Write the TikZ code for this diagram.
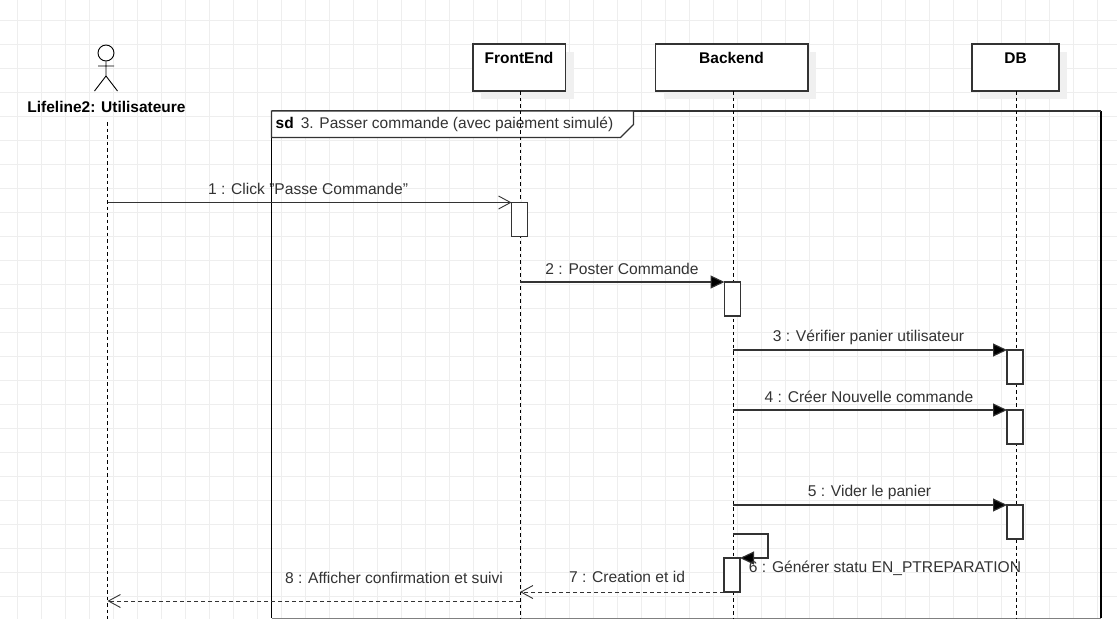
\documentclass[tikz,border=0pt]{standalone}
\usepackage{fontspec}
\setmainfont{Liberation Sans}
\usetikzlibrary{arrows.meta}
\definecolor{gridc}{HTML}{EEEEEE}
\definecolor{ink}{HTML}{333333}
\definecolor{shade}{HTML}{F0F0F0}
\tikzset{
  x=1pt,y=-1pt,
  gridline/.style={gridc,line width=1pt},
  msgtext/.style={font=\fontsize{15.6}{18}\selectfont,text=ink,inner sep=0pt,anchor=center},
  headtext/.style={font=\fontsize{15.5}{18}\selectfont\bfseries,text=black,inner sep=0pt,anchor=center},
  headbox/.style={draw=ink,line width=1.1pt,fill=white,minimum height=47pt,inner sep=0pt,outer sep=0pt,anchor=north west},
  shadowbox/.style={fill=shade,draw=none},
  lifeline/.style={black,line width=0.9pt,dash pattern=on 3.5pt off 3pt},
  activ/.style={draw=ink,line width=1.1pt,fill=white,minimum width=16pt,minimum height=34pt,inner sep=0pt,outer sep=0pt,anchor=north west},
  syncmsg/.style={ink,line width=1.1pt,-{Triangle[length=14pt,width=13pt,fill=black]}},
  asyncmsg/.style={ink,line width=1.1pt,-{Straight Barb[length=12pt,width=13pt,line width=0.9pt]}},
  retmsg/.style={ink,line width=1pt,dash pattern=on 4pt off 3pt,-{Straight Barb[length=12pt,width=13pt,line width=0.9pt]}},
  framel/.style={black,line width=1.1pt},
}
\begin{document}
\begin{tikzpicture}
\useasboundingbox (0,0) rectangle (1117,619);
\fill[white] (0,0) rectangle (1117,619);
\foreach \i in {0,...,45} \draw[gridline] ({17.5+24*\i},0) -- ({17.5+24*\i},619);
\foreach \i in {0,...,24} \draw[gridline] (0,{20.5+24*\i}) -- (1117,{20.5+24*\i});

% shadows
\fill[shadowbox] (481,52) rectangle (573.5,99);
\fill[shadowbox] (663.5,52) rectangle (816,99);
\fill[shadowbox] (980,52) rectangle (1067,99);

% frame
\draw[framel] (271.5,111) -- (271.5,618);
\draw[framel] (1101,111) -- (1101,618);
\draw[ink,line width=1.1pt] (271.5,111) -- (1101,111);
\draw[gray,line width=1pt] (271.5,618) -- (1101,618);
\draw[ink,line width=1.1pt,fill=white] (271.5,111) -- (633.5,111) -- (633.5,124.5) -- (620.5,137.5) -- (271.5,137.5) -- cycle;
\node[font=\fontsize{15.5}{18}\selectfont,text=ink,inner sep=0pt,anchor=west] (fr) at (275.5,124) {\textcolor{black}{\textbf{sd}}\hspace{7pt}3. Passer commande (avec paiement simulé)};

% actor
\node[draw=black,line width=0.9pt,circle,minimum size=16pt,inner sep=0pt] (head) at (106,53) {};
\coordinate (hip) at (106,76);
\coordinate (armL) at (98,66);
\coordinate (armR) at (114,66);
\coordinate (legL) at (94.5,91);
\coordinate (legR) at (117.5,91);
\draw[black,line width=0.9pt] (head.south) -- (hip) (armL) -- (armR) (legL) -- (hip) -- (legR);
\node[headtext] (actor) at (106.5,106.5) {Lifeline2: Utilisateure};

% heads
\node[headbox,minimum width=92.5pt] (fe) at (473,44) {};
\node[headbox,minimum width=152.5pt] (be) at (655.5,44) {};
\node[headbox,minimum width=87pt] (db) at (972,44) {};
\node[headtext] (felabel) at (519,58) {FrontEnd};
\node[headtext] (belabel) at (731.5,58) {Backend};
\node[headtext] (dblabel) at (1015.5,58) {DB};

% lifelines
\coordinate (aTop) at (107.5,122);
\coordinate (aEnd) at (107.5,619);
\coordinate (feTop) at (520,91);
\coordinate (feEnd) at (520,619);
\coordinate (beTop) at (733,91);
\coordinate (beEnd) at (733,619);
\coordinate (dbTop) at (1016,91);
\coordinate (dbEnd) at (1016,619);
\draw[lifeline] (aTop) -- (aEnd);
\draw[lifeline] (feTop) -- (feEnd);
\draw[lifeline] (beTop) -- (beEnd);
\draw[lifeline] (dbTop) -- (dbEnd);

% activations
\node[activ] (a1) at (511.5,202.5) {};
\node[activ] (a2) at (724.5,282) {};
\node[activ] (a3) at (1007,350) {};
\node[activ] (a4) at (1007,410) {};
\node[activ] (a5) at (1007,505) {};
\node[activ] (a6) at (724,558) {};

% messages
\coordinate (s6) at (733,534);
\coordinate (c6a) at (768,534);
\coordinate (s8) at (520,601);
\coordinate (t8) at (107.5,601);
\draw[asyncmsg] (a1.north west -| aTop) -- (a1.north west);
\draw[syncmsg] (a2.north west -| feTop) -- (a2.north west);
\draw[syncmsg] (a3.north west -| beTop) -- (a3.north west);
\draw[syncmsg] (a4.north west -| beTop) -- (a4.north west);
\draw[syncmsg] (a5.north west -| beTop) -- (a5.north west);
\draw[syncmsg] (s6) -- (c6a) -- (a6.north east -| c6a) -- (a6.north east);
\draw[retmsg] (a6.south west) -- (a6.south west -| feTop);
\draw[retmsg] (s8) -- (t8);

\node[msgtext] (l1) at (308,189) {1 : Click "Passe Commande"};
\node[msgtext] (l2) at (622,269) {2 : Poster Commande};
\node[msgtext] (l3) at (868.5,337.5) {3 : Vérifier panier utilisateur};
\node[msgtext] (l4) at (869,397) {4 : Créer Nouvelle commande};
\node[msgtext] (l5) at (869.5,492) {5 : Vider le panier};
\node[msgtext] (l6) at (885,568.5) {6 : Générer statu EN\_PTREPARATION};
\node[msgtext] (l7) at (627,577) {7 : Creation et id};
\node[msgtext] (l8) at (394,578) {8 : Afficher confirmation et suivi};
\end{tikzpicture}
\end{document}
